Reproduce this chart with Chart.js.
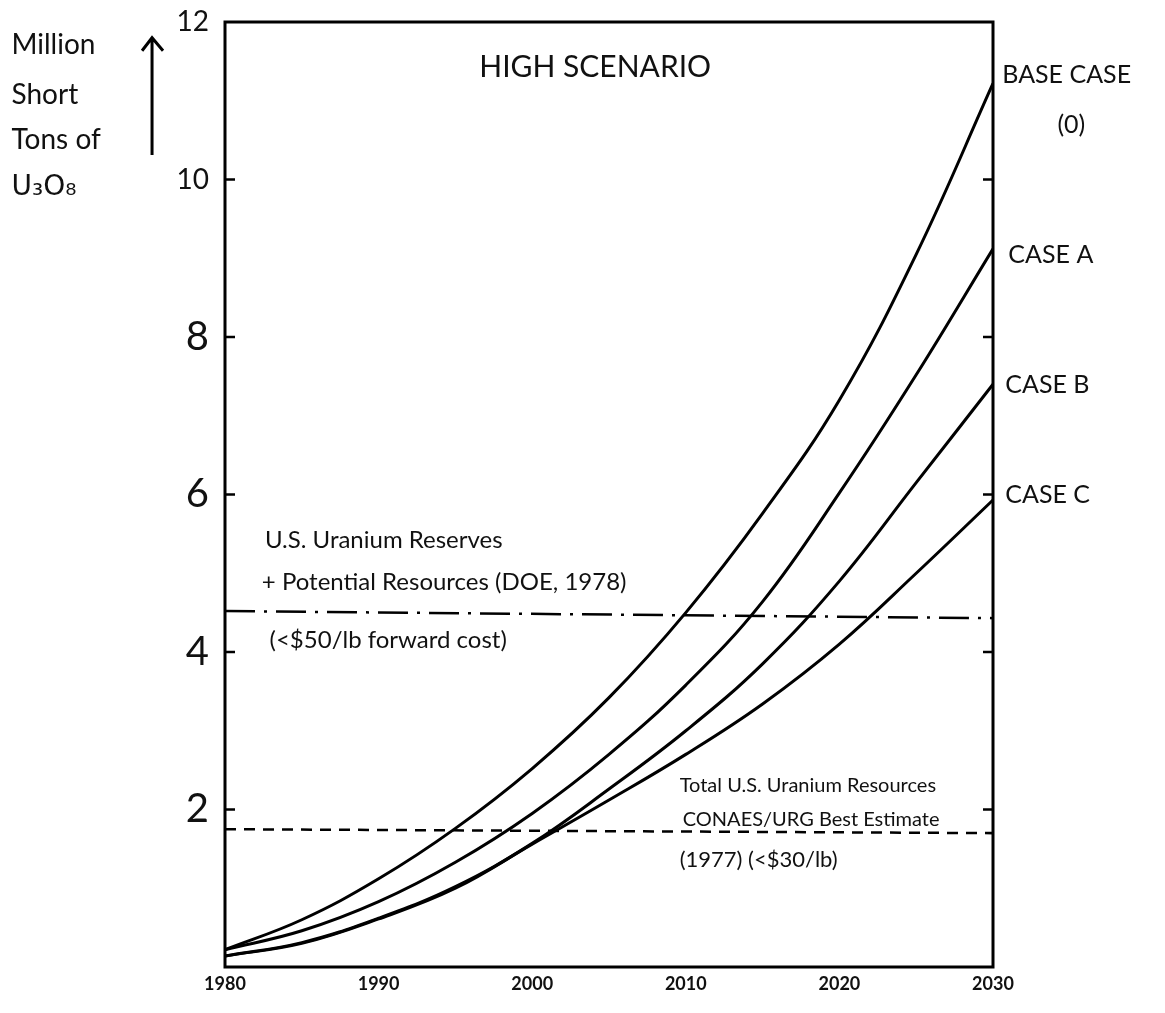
<!DOCTYPE html>
<html>
<head>
<meta charset="utf-8">
<title>High Scenario - U3O8 requirements</title>
<script src="https://cdn.jsdelivr.net/npm/chart.js@4.4.0/dist/chart.umd.min.js"></script>
<style>
  html, body { margin: 0; padding: 0; background: #fff; }
  #wrap { width: 1165px; height: 1013px; position: relative; }
</style>
</head>
<body>
<div id="wrap"><canvas id="uraniumChart"></canvas></div>
<script>
// values (million short tons of U3O8)
const years = [1980, 1985, 1990, 1995, 2000, 2005, 2010, 2015, 2020, 2025, 2030];
const baseCase = [0.22, 0.60, 1.12, 1.76, 2.52, 3.42, 4.50, 5.76, 7.20, 9.05, 11.22];
const caseA = [0.22, 0.46, 0.83, 1.33, 1.95, 2.70, 3.58, 4.64, 6.02, 7.52, 9.12];
const caseB = [0.14, 0.31, 0.62, 1.02, 1.57, 2.26, 3.00, 3.85, 4.90, 6.15, 7.40];
const caseC = [0.14, 0.30, 0.61, 1.00, 1.56, 2.12, 2.70, 3.34, 4.10, 5.00, 5.93];

// horizontal reference levels (start / end of the hand drawn lines)
const refYears = [1980, 2030];
const reservesDOE = [4.52, 4.43];
const resourcesCONAES = [1.75, 1.70];

const xTicks = [1980, 1990, 2000, 2010, 2020, 2030];
const yTicks = [2, 4, 6, 8, 10, 12];

const hand = '"Lato", "DejaVu Sans", sans-serif';

// notes placed in data units (year, value)
const notes = [
  { text: 'HIGH SCENARIO', x: 2004.1, y: 11.42, size: 30, align: 'center' },
  { text: 'BASE CASE', x: 2030.6, y: 11.33, size: 25, align: 'left' },
  { text: '(0)', x: 2035.1, y: 10.69, size: 25, align: 'center' },
  { text: 'CASE A', x: 2031.0, y: 9.04, size: 25, align: 'left' },
  { text: 'CASE B', x: 2030.8, y: 7.39, size: 25, align: 'left' },
  { text: 'CASE C', x: 2030.8, y: 5.99, size: 25, align: 'left' },
  { text: 'U.S. Uranium Reserves', x: 1982.6, y: 5.42, size: 24, align: 'left' },
  { text: '+ Potential Resources (DOE, 1978)', x: 1982.4, y: 4.88, size: 24, align: 'left' },
  { text: '(<$50/lb forward cost)', x: 1982.9, y: 4.15, size: 24, align: 'left' },
  { text: 'Total U.S. Uranium Resources', x: 2009.6, y: 2.31, size: 20, align: 'left' },
  { text: 'CONAES/URG Best Estimate', x: 2009.8, y: 1.87, size: 20, align: 'left' },
  { text: '(1977) (<$30/lb)', x: 2009.6, y: 1.36, size: 22, align: 'left' },
  { text: 'Million', x: 1966.1, y: 11.71, size: 28, align: 'left' },
  { text: 'Short', x: 1966.1, y: 11.07, size: 28, align: 'left' },
  { text: 'Tons of', x: 1966.1, y: 10.50, size: 28, align: 'left' },
  { text: 'U\u2083O\u2088', x: 1966.1, y: 9.90, size: 28, align: 'left' }
];

function pts(vals, xs) {
  return vals.map((v, i) => ({ x: xs[i], y: v }));
}

// frame, inward ticks, axis arrow and the hand written notes
const drawingPlugin = {
  id: 'drawing',
  afterDatasetsDraw(chart) {
    const { ctx, chartArea: a, scales } = chart;
    const xs = scales.x, ys = scales.y;
    ctx.save();
    ctx.strokeStyle = '#000';
    ctx.lineWidth = 3;
    ctx.strokeRect(a.left, a.top, a.right - a.left, a.bottom - a.top);

    ctx.lineWidth = 2.5;
    yTicks.forEach(v => {
      if (v >= 12) return;
      const py = ys.getPixelForValue(v);
      ctx.beginPath();
      ctx.moveTo(a.left, py); ctx.lineTo(a.left + 10, py);
      ctx.moveTo(a.right, py); ctx.lineTo(a.right - 10, py);
      ctx.stroke();
    });

    // arrow next to the axis title
    const ax = xs.getPixelForValue(1975.25);
    const ay0 = ys.getPixelForValue(10.31);
    const ay1 = ys.getPixelForValue(11.8);
    ctx.lineWidth = 3;
    ctx.beginPath();
    ctx.moveTo(ax, ay0); ctx.lineTo(ax, ay1);
    ctx.moveTo(ax - 10, ay1 + 13); ctx.lineTo(ax, ay1); ctx.lineTo(ax + 11, ay1 + 13);
    ctx.stroke();

    ctx.fillStyle = '#111';
    ctx.textBaseline = 'middle';
    notes.forEach(n => {
      ctx.font = n.size + 'px ' + hand;
      if (n.text.indexOf('\u2083') >= 0) ctx.font = n.size + 'px "DejaVu Sans", sans-serif';
      ctx.textAlign = n.align;
      ctx.fillText(n.text, xs.getPixelForValue(n.x), ys.getPixelForValue(n.y));
    });
    ctx.restore();
  }
};

function renderUraniumChart() {
  const ctx = document.getElementById('uraniumChart').getContext('2d');
  new Chart(ctx, {
    type: 'line',
    data: {
      datasets: [
        { label: 'Base case (0)', data: pts(baseCase, years) },
        { label: 'Case A', data: pts(caseA, years) },
        { label: 'Case B', data: pts(caseB, years) },
        { label: 'Case C', data: pts(caseC, years) },
        { label: 'U.S. reserves + potential resources (DOE, 1978)', data: pts(reservesDOE, refYears),
          borderWidth: 2.5, borderDash: [30, 9, 3, 9], tension: 0 },
        { label: 'Total U.S. resources CONAES/URG (1977)', data: pts(resourcesCONAES, refYears),
          borderWidth: 2.5, borderDash: [11, 8], tension: 0 }
      ]
    },
    options: {
      responsive: true,
      maintainAspectRatio: false,
      animation: false,
      layout: { padding: { top: 22, right: 172, left: 0, bottom: 0 } },
      elements: {
        line: { borderColor: '#000', borderWidth: 3, fill: false, tension: 0.4 },
        point: { radius: 0, hoverRadius: 0 }
      },
      plugins: { legend: { display: false }, tooltip: { enabled: false } },
      scales: {
        x: {
          type: 'linear', min: 1980, max: 2030,
          afterFit: s => { s.height = 46; s.paddingLeft = 0; s.paddingRight = 0; },
          afterBuildTicks: s => { s.ticks = xTicks.map(v => ({ value: v })); },
          grid: { display: false, drawTicks: false },
          border: { display: false },
          ticks: {
            padding: 6, color: '#111', autoSkip: false, maxRotation: 0,
            font: { family: hand, size: 18, weight: 'bold' },
            callback: v => String(v)
          }
        },
        y: {
          min: 0, max: 12,
          afterFit: s => { s.width = 225; s.paddingTop = 0; s.paddingBottom = 0; },
          afterBuildTicks: s => { s.ticks = yTicks.map(v => ({ value: v })); },
          grid: { display: false, drawTicks: false },
          border: { display: false },
          ticks: {
            padding: 16, color: '#111',
            font: c => ({ family: hand, size: c.tick && c.tick.value >= 10 ? 28 : 40 }),
            callback: v => String(v)
          }
        }
      }
    },
    plugins: [drawingPlugin]
  });
}

document.addEventListener('DOMContentLoaded', renderUraniumChart);
</script>
</body>
</html>
